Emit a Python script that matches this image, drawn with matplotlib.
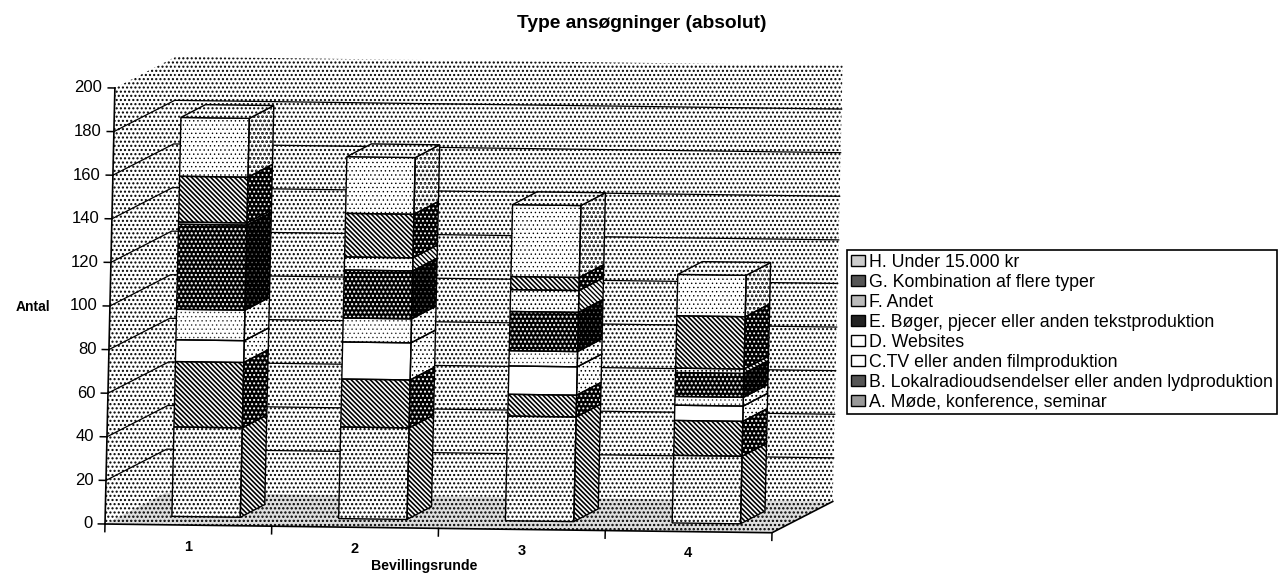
import matplotlib
matplotlib.use("Agg")
import matplotlib.pyplot as plt
from matplotlib.patches import Patch, Polygon
from matplotlib.transforms import Affine2D

plt.rcParams["font.family"] = ["Liberation Sans", "DejaVu Sans"]

rounds = ["1", "2", "3", "4"]
series_names = [
    "A. Møde, konference, seminar",
    "B. Lokalradioudsendelser eller anden lydproduktion",
    "C.TV eller anden filmproduktion",
    "D. Websites",
    "E. Bøger, pjecer eller anden tekstproduktion",
    "F. Andet",
    "G. Kombination af flere typer",
    "H. Under 15.000 kr",
]
# antal pr. runde, aflaest fra billedet
a_mode = [41, 42, 48, 31]
b_radio = [30, 22, 10, 16]
c_tv = [10, 17, 13, 7]
d_web = [14, 11, 7, 4]
e_boger = [39, 22, 18, 11]
f_andet = [1, 6, 10, 2]
g_komb = [21, 20, 6, 24]
h_under = [27, 26, 33, 19]
all_series = [a_mode, b_radio, c_tv, d_web, e_boger, f_andet, g_komb, h_under]
y_ticks = list(range(0, 201, 20))

# (flade, skraverings-farve, skravering, stregbredde)
DIAG = "\\\\\\\\\\\\\\"
WALL = ("white", "black", "....", 1.0)
FLOOR = ("#dedede", "black", "....", 1.1)
TOP = ("white", "black", "....", 1.0)
front_styles = [
    ("white", "black", "....", 1.05),
    ("white", "black", DIAG, 1.2),
    ("white", "white", None, 0.5),
    ("white", "#333333", "....", 0.5),
    ("black", "white", "....", 1.0),
    ("white", "black", "....", 0.7),
    ("white", "black", DIAG, 1.2),
    ("white", "black", "....", 0.5),
]
side_styles = [
    ("white", "black", DIAG, 1.2),
    ("black", "white", "....", 0.9),
    ("white", "black", "....", 0.6),
    ("white", "black", "....", 0.8),
    ("black", "#666666", "....", 0.5),
    ("white", "black", DIAG, 1.0),
    ("black", "white", "....", 0.8),
    ("white", "black", "....", 1.3),
]
legend_faces = ["#999999", "#555555", "white", "white", "#222222", "#bbbbbb", "#555555", "#cccccc"]

fig = plt.figure(figsize=(12.88, 5.76), dpi=100)
ax = fig.add_axes([0, 0, 1, 1])
PX_X = 166.75
PX_Y = 2.18
ax.set_xlim(-105 / PX_X, (1288 - 105) / PX_X)
ax.set_ylim(-52 / PX_Y, 524 / PX_Y)
ax.axis("off")

# scanningen er lidt skaev
tr = Affine2D().translate(-105, -52).skew_deg(1.3, -0.75).translate(105, 52)
tr = ax.transData + tr

DX, DY = 0.36, 14.7      # dybde af rummet
BX, BY = 0.09, 3.9       # soejlens start i dybden
SX, SY = 0.145, 6.0      # soejlens egen dybde
BAR_W = 0.41
N = len(rounds)


def face(pts, style, z, outline=True, lw=1.0):
    plt.rcParams["hatch.linewidth"] = style[3]
    ax.add_patch(Polygon(pts, closed=True, facecolor=style[0], edgecolor=style[1],
                         hatch=style[2], lw=0, transform=tr, zorder=z))
    if outline:
        ax.add_patch(Polygon(pts, closed=True, fill=False, edgecolor="black", lw=lw,
                             transform=tr, zorder=z + 0.1))


# vaegge og gulv
face([(DX, DY), (N + DX, DY), (N + DX, 200 + DY), (DX, 200 + DY)], WALL, 1, outline=False)
face([(0, 0), (DX, DY), (DX, 200 + DY), (0, 200)], WALL, 1, outline=False)
face([(0, 0), (N, 0), (N + DX, DY), (DX, DY)], FLOOR, 1, outline=False)

for v in y_ticks[1:-1]:
    ax.plot([0, DX, N + DX], [v, v + DY, v + DY], color="black", lw=0.9, transform=tr, zorder=2)

# akser
ax.plot([0, 0], [0, 200], color="black", lw=1.2, transform=tr, zorder=3)
ax.plot([0, N, N + DX], [0, 0, DY], color="black", lw=1.2, transform=tr, zorder=3)
for v in y_ticks:
    ax.plot([-0.04, 0], [v, v], color="black", lw=1.1, transform=tr, zorder=3)
    ax.text(-0.075, v, str(v), ha="right", va="center", fontsize=12, transform=tr, zorder=3)
for i in range(N + 1):
    ax.plot([i, i], [0, -3.5], color="black", lw=1.1, transform=tr, zorder=3)
for i, lab in enumerate(rounds):
    ax.text(i + 0.5, -10, lab, ha="center", va="center", fontsize=10.5, fontweight="bold",
            transform=tr, zorder=3)

# soejler
for i in range(N):
    left = i + 0.31 + BX
    right = left + BAR_W
    bottom = BY
    for k, values in enumerate(all_series):
        top = bottom + values[i]
        z = 5 + i + k * 0.01
        face([(left, bottom), (right, bottom), (right, top), (left, top)], front_styles[k], z)
        face([(right, bottom), (right + SX, bottom + SY), (right + SX, top + SY), (right, top)],
             side_styles[k], z)
        bottom = top
    face([(left, bottom), (right, bottom), (right + SX, bottom + SY), (left + SX, bottom + SY)],
         TOP, 5 + i + 0.5)

fig.text(642 / 1288, 1 - 23 / 576, "Type ansøgninger (absolut)", ha="center", va="center",
         fontsize=13.8, fontweight="bold")
fig.text(33 / 1288, 1 - 307 / 576, "Antal", ha="center", va="center", fontsize=10, fontweight="bold")
fig.text(424 / 1288, 1 - 566 / 576, "Bevillingsrunde", ha="center", va="center",
         fontsize=10.2, fontweight="bold")

handles = []
for k in range(len(series_names) - 1, -1, -1):
    handles.append(Patch(facecolor=legend_faces[k], edgecolor="black", lw=1, label=series_names[k]))
leg = ax.legend(handles=handles, loc="upper left", bbox_to_anchor=(847 / 1288, 1 - 250 / 576),
                bbox_transform=fig.transFigure, fontsize=12.8, frameon=True, fancybox=False,
                edgecolor="black", framealpha=1, borderpad=0.2, labelspacing=0.17,
                handlelength=0.8, handleheight=0.6, handletextpad=0.25, borderaxespad=0)
leg.get_frame().set_linewidth(1.2)
leg.set_zorder(20)

fig.savefig("out.png", dpi=100)
